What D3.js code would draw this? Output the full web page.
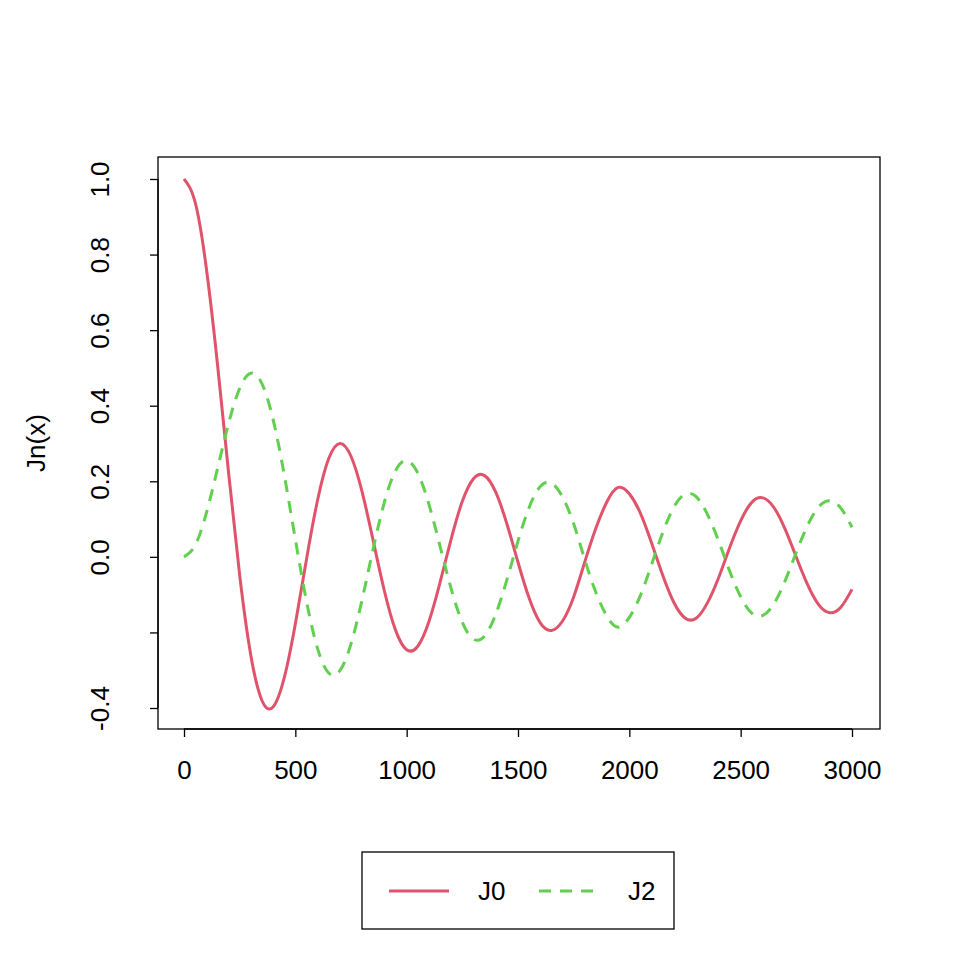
<!DOCTYPE html><html><head><meta charset="utf-8">
<script src="https://cdn.jsdelivr.net/npm/d3@7"></script>
<style>body{margin:0;background:#fff}text{font-family:"Liberation Sans",Arial,sans-serif}</style></head><body>
<svg id="c" width="960" height="960"></svg>
<script>
const xIdx = d3.range(0, 3001, 50);
const j0 = [1,0.9385,0.7652,0.5118,0.2239,-0.0484,-0.2601,-0.3801,-0.3971,-0.3205,-0.1776,-0.0068,0.1506,0.2601,0.3001,0.2663,0.1717,0.0419,-0.0903,-0.1939,-0.2459,-0.2366,-0.1712,-0.0677,0.0477,0.1469,0.2069,0.2150,0.1711,0.0875,-0.0142,-0.1092,-0.1749,-0.1950,-0.1699,-0.1061,-0.0134,0.0762,0.1466,0.1837,0.1670,0.1151,0.0365,-0.0489,-0.1209,-0.1617,-0.1625,-0.1225,-0.0564,0.0236,0.0955,0.1442,0.1560,0.1299,0.0727,-0.0010,-0.0731,-0.1264,-0.1479,-0.1333,-0.0861];
const j2 = [0,0.0306,0.1149,0.2321,0.3528,0.4461,0.4861,0.4586,0.3641,0.2178,0.0466,-0.1173,-0.2429,-0.3074,-0.3014,-0.2303,-0.1130,0.0223,0.1448,0.2279,0.2546,0.2216,0.1390,0.0280,-0.0849,-0.1734,-0.2177,-0.2094,-0.1520,-0.0609,0.0416,0.1308,0.1862,0.1956,0.1584,0.0874,-0.0075,-0.0943,-0.1577,-0.1861,-0.1603,-0.1020,-0.0203,0.0642,0.1317,0.1658,0.1593,0.1131,0.0436,-0.0366,-0.1057,-0.1492,-0.1550,-0.1235,-0.0627,0.0121,0.0825,0.1320,0.1485,0.1291,0.0782];
const xTicks = [0,500,1000,1500,2000,2500,3000];
const yTicks = [-0.4,-0.2,0,0.2,0.4,0.6,0.8,1.0];
const yLabels = ["-0.4","","0.0","0.2","0.4","0.6","0.8","1.0"];
const seriesNames = ["J0","J2"];
const colors = ["#DF536B","#61D04F"];

const svg = d3.select("#c");
const x = d3.scaleLinear().domain([0,3000]).range([184,852]);
const y = d3.scaleLinear().domain([-0.4,1.0]).range([708,179]);
svg.append("rect").attr("x",158).attr("y",157).attr("width",722).attr("height",572).attr("fill","none").attr("stroke","#000").attr("stroke-width",1.3);
const line = d3.line().x((d,i)=>x(xIdx[i])).y(d=>y(d)).curve(d3.curveNatural);
svg.append("path").attr("d",line(j0)).attr("fill","none").attr("stroke",colors[0]).attr("stroke-width",3);
svg.append("path").attr("d",line(j2)).attr("fill","none").attr("stroke",colors[1]).attr("stroke-width",3).attr("stroke-dasharray","12,9");
const xa = svg.append("g").attr("transform","translate(0,729)").call(d3.axisBottom(x).tickValues(xTicks).tickFormat(d3.format("d")).tickSize(8).tickPadding(20));
xa.select(".domain").attr("d","M184,0H852").attr("stroke-width",1.3);
xa.selectAll("line").attr("stroke-width",1.3);
xa.selectAll("text").attr("font-size",26).attr("font-family","Liberation Sans, Arial").attr("dy","0.85em");
const ya = svg.append("g").attr("transform","translate(158,0)").call(d3.axisLeft(y).tickValues(yTicks).tickSize(8).tickFormat((d,i)=>yLabels[i]));
ya.select(".domain").attr("d","M0,179V708").attr("stroke-width",1.3);
ya.selectAll("line").attr("stroke-width",1.3);
ya.selectAll("text").attr("font-size",26).attr("font-family","Liberation Sans, Arial").attr("text-anchor","middle").attr("x",0)
  .attr("transform",`translate(-58,0) rotate(-90)`).attr("y",0).attr("dy","0.35em");
svg.append("text").attr("transform","translate(36,443) rotate(-90)").attr("text-anchor","middle").attr("dy","0.35em").attr("font-size",26).text("Jn(x)");
const lg = svg.append("g");
lg.append("rect").attr("x",362).attr("y",852).attr("width",312).attr("height",77).attr("fill","none").attr("stroke","#000").attr("stroke-width",1.3);
seriesNames.forEach((n,i)=>{
  const ox = 389 + i*150;
  lg.append("line").attr("x1",ox).attr("x2",ox+60).attr("y1",891).attr("y2",891).attr("stroke",colors[i]).attr("stroke-width",3).attr("stroke-dasharray",i?"12,9":null);
  lg.append("text").attr("x",ox+89).attr("y",891).attr("dy","0.36em").attr("font-size",26).text(n);
});
</script></body></html>
